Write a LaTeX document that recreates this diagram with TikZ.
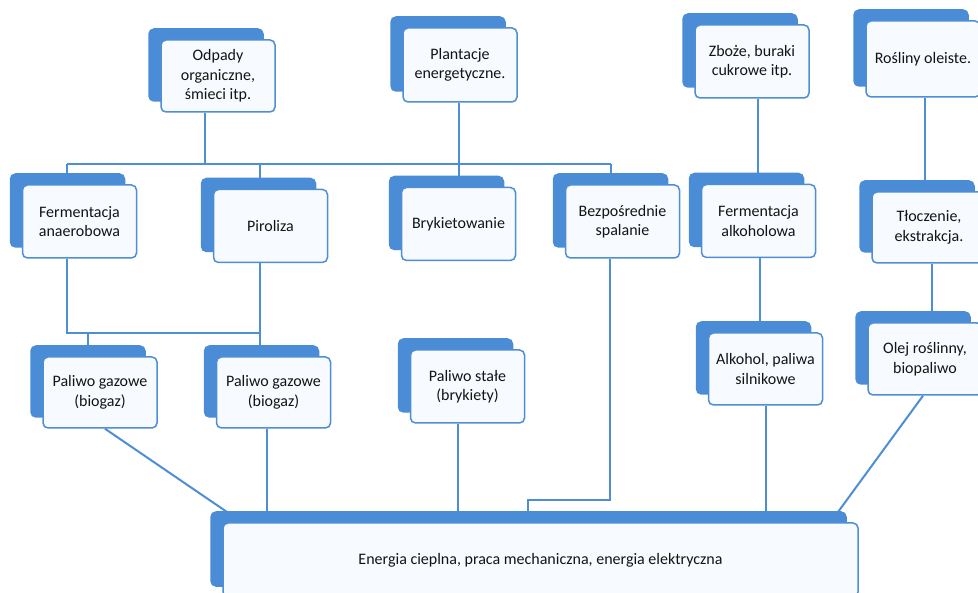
\documentclass[tikz,border=0pt]{standalone}
\usepackage{fontspec}
\setmainfont{Carlito}
\usetikzlibrary{shadows,backgrounds,calc}
\definecolor{bback}{RGB}{74,141,214}
\definecolor{bline}{RGB}{78,142,212}
\definecolor{bfront}{RGB}{247,250,254}
\definecolor{txt}{RGB}{20,20,20}
\begin{document}
\begin{tikzpicture}[x=1pt,y=-1pt,
  box/.style={draw=bline, line width=1.5pt, fill=bfront, rounded corners=5pt,
    align=center, text=txt, font=\fontsize{16}{19.5}\selectfont, inner sep=0pt,
    minimum width=114pt, minimum height=73pt,
    copy shadow={shadow xshift=-12pt, shadow yshift=11pt, fill=bback, draw=bback}},
  conn/.style={draw=bline, line width=2pt}]
\useasboundingbox (0,0) rectangle (978,593);
\clip (0,0) rectangle (978,593);

% top row
\node[box, minimum height=72pt] (odp) at (218,76) {Odpady\\organiczne,\\śmieci itp.};
\node[box, minimum height=74pt] (pla) at (460,65) {Plantacje\\energetyczne.};
\node[box] (zbo) at (752,61.5) {Zboże, buraki\\cukrowe itp.};
\node[box, minimum height=76pt] (ros) at (923,59) {Rośliny oleiste.};

% second row
\node[box] (fan) at (79.5,221.5) {Fermentacja\\anaerobowa};
\node[box] (pir) at (270.5,226) {Piroliza};
\node[box] (bry) at (458.5,224) {Brykietowanie};
\node[box] (bez) at (622.5,221.5) {Bezpośrednie\\spalanie};
\node[box] (fal) at (758.5,221) {Fermentacja\\alkoholowa};
\node[box, minimum height=71pt] (tlo) at (929,227.5) {Tłoczenie,\\ekstrakcja.};

% third row
\node[box, minimum height=71pt] (pg1) at (100,392.5) {Paliwo gazowe\\(biogaz)};
\node[box, minimum height=71pt] (pg2) at (273.5,392.5) {Paliwo gazowe\\(biogaz)};
\node[box] (pst) at (467.5,386.5) {Paliwo stałe\\(brykiety)};
\node[box, minimum height=72pt] (alk) at (765.5,369) {Alkohol, paliwa\\silnikowe};
\node[box, minimum height=72pt] (ole) at (925,359) {Olej roślinny,\\biopaliwo};

% bottom
\node[box, minimum width=635pt, minimum height=74pt] (ene) at (540.5,560)
  {Energia cieplna, praca mechaniczna, energia elektryczna};

% junction coordinates
\coordinate (b1) at (67,164);
\coordinate (b2) at (205,164);
\coordinate (b3) at (260,164);
\coordinate (b4) at (459,164);
\coordinate (b5) at (611,164);
\coordinate (c1) at (758,0);
\coordinate (c2) at (760,0);
\coordinate (c3) at (925,0);
\coordinate (c4) at (932,0);
\coordinate (d1) at (67,333);
\coordinate (d2) at (88,333);
\coordinate (d3) at (260,333);
\coordinate (e1) at (105,0);
\coordinate (e2) at (267,0);
\coordinate (e3) at (458,0);
\coordinate (e4) at (766,0);
\coordinate (e5) at (923,0);
\coordinate (f1) at (227,512);
\coordinate (f2) at (838,512);
\coordinate (g1) at (610,500);
\coordinate (g2) at (528,500);

\begin{pgfonlayer}{background}
\draw[conn] (b1) -- (b5);
\draw[conn] (odp.south -| b2) -- (b2);
\draw[conn] (pla.south -| b4) -- (b4);
\draw[conn] (b1) -- (fan.north -| b1);
\draw[conn] (b3) -- (pir.north -| b3);
\draw[conn] (b4) -- (bry.north -| b4);
\draw[conn] (b5) -- (bez.north -| b5);
\draw[conn] (zbo.south -| c1) -- (fal.north -| c1);
\draw[conn] (ros.south -| c3) -- (tlo.north -| c3);
\draw[conn] (fal.south -| c2) -- (alk.north -| c2);
\draw[conn] (tlo.south -| c4) -- (ole.north -| c4);
\draw[conn] (fan.south -| d1) -- (d1) -- (d3);
\draw[conn] (pir.south -| d3) -- (pg2.north -| d3);
\draw[conn] (d2) -- (pg1.north -| d2);
\draw[conn] (pg1.south -| e1) -- (f1);
\draw[conn] (pg2.south -| e2) -- (ene.north -| e2);
\draw[conn] (pst.south -| e3) -- (ene.north -| e3);
\draw[conn] (bez.south -| g1) -- (g1) -- (g2) -- (ene.north -| g2);
\draw[conn] (alk.south -| e4) -- (ene.north -| e4);
\draw[conn] (ole.south -| e5) -- (f2);
\end{pgfonlayer}
\end{tikzpicture}
\end{document}
